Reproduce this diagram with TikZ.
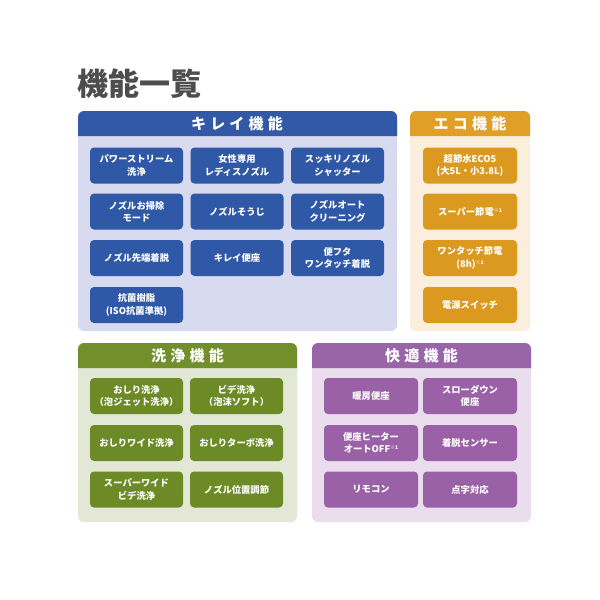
\documentclass[tikz,border=0pt]{standalone}
\usepackage{fontspec}
\newfontfamily\jp{Noto Sans CJK JP}
\newfontfamily\jph{Noto Sans CJK JP}[LetterSpace=28]
\definecolor{kh}{HTML}{3259A6}
\definecolor{kb}{HTML}{D8DAEF}
\definecolor{kn}{HTML}{2F58A6}
\definecolor{eh}{HTML}{E0A028}
\definecolor{eb}{HTML}{FCEEDC}
\definecolor{en}{HTML}{DB9A1F}
\definecolor{wh}{HTML}{71902C}
\definecolor{wb}{HTML}{E3E7D6}
\definecolor{wn}{HTML}{6C8B27}
\definecolor{ch}{HTML}{9A64A8}
\definecolor{cb}{HTML}{E9DDEE}
\definecolor{cn}{HTML}{9A61A6}
\definecolor{tg}{HTML}{4D4D4D}
\newcommand{\kome}{{\fontsize{5}{5}\selectfont\raisebox{3pt}{※1}}}
\tikzset{
  btn/.style={rounded corners=4, text=white, align=center, inner sep=0pt,
    font=\jp\bfseries\fontsize{9.3}{12.5}\selectfont, minimum height=36pt},
  kbtn/.style={btn, fill=kn, minimum width=93pt},
  ebtn/.style={btn, fill=en, minimum width=94pt},
  wbtn/.style={btn, fill=wn, minimum width=93pt},
  cbtn/.style={btn, fill=cn, minimum width=94pt},
  htext/.style={text=white, font=\jph\bfseries\fontsize{15}{15}\selectfont, inner sep=0pt},
}
\newcommand{\panel}[6]{%
  \fill[#6, rounded corners=6] (#1,#2) rectangle (#3,#4);
  \fill[#5] (#1,#2+25) [rounded corners=6]-- (#1,#2) -- (#3,#2) [sharp corners]-- (#3,#2+25) -- cycle;
}
\begin{document}
\begin{tikzpicture}[x=1pt,y=-1pt]
\useasboundingbox (0,0) rectangle (600,600);
\fill[white] (0,0) rectangle (600,600);
\node[anchor=west, text=tg, font=\jp\bfseries\fontsize{31}{31}\selectfont, inner sep=0pt] (title) at (77,84) {機能一覧};

% Kirei
\panel{78}{111}{397}{331}{kh}{kb}
\node[htext] (kh) at (237,124) {キレイ機能};
\node[kbtn] (k1) at (136.5,165.5) {パワーストリーム\\洗浄};
\node[kbtn] (k2) at (237,165.5) {女性専用\\レディスノズル};
\node[kbtn] (k3) at (337.5,165.5) {スッキリノズル\\シャッター};
\node[kbtn] (k4) at (136.5,211.5) {ノズルお掃除\\モード};
\node[kbtn] (k5) at (237,211.5) {ノズルそうじ};
\node[kbtn] (k6) at (337.5,211.5) {ノズルオート\\クリーニング};
\node[kbtn] (k7) at (136.5,258) {ノズル先端着脱};
\node[kbtn] (k8) at (237,258) {キレイ便座};
\node[kbtn] (k9) at (337.5,258) {便フタ\\ワンタッチ着脱};
\node[kbtn] (k10) at (136.5,305) {抗菌樹脂\\(ISO抗菌準拠)};

% Eco
\panel{410}{111}{530}{331}{eh}{eb}
\node[htext] (eh) at (470,124) {エコ機能};
\node[ebtn] (e1) at (470,165.5) {超節水ECO5\\(大5L・小3.8L)};
\node[ebtn] (e2) at (470,211.5) {スーパー節電\kome};
\node[ebtn] (e3) at (470,258) {ワンタッチ節電\\(8h)\kome};
\node[ebtn] (e4) at (470,305) {電源スイッチ};

% Wash
\panel{78}{343}{297}{522}{wh}{wb}
\node[htext] (wh) at (187.5,355.5) {洗浄機能};
\node[wbtn] (w1) at (136.5,396) {おしり洗浄\\（泡ジェット洗浄）};
\node[wbtn] (w2) at (236.5,396) {ビデ洗浄\\（泡沫ソフト）};
\node[wbtn] (w3) at (136.5,443) {おしりワイド洗浄};
\node[wbtn] (w4) at (236.5,443) {おしりターボ洗浄};
\node[wbtn] (w5) at (136.5,489.5) {スーパーワイド\\ビデ洗浄};
\node[wbtn] (w6) at (236.5,489.5) {ノズル位置調節};

% Comfort
\panel{312}{343}{531}{522}{ch}{cb}
\node[htext] (chd) at (421.5,355.5) {快適機能};
\node[cbtn] (c1) at (371,396) {暖房便座};
\node[cbtn] (c2) at (470,396) {スローダウン\\便座};
\node[cbtn] (c3) at (371,443) {便座ヒーター\\オートOFF\kome};
\node[cbtn] (c4) at (470,443) {着脱センサー};
\node[cbtn] (c5) at (371,489.5) {リモコン};
\node[cbtn] (c6) at (470,489.5) {点字対応};
\end{tikzpicture}
\end{document}
